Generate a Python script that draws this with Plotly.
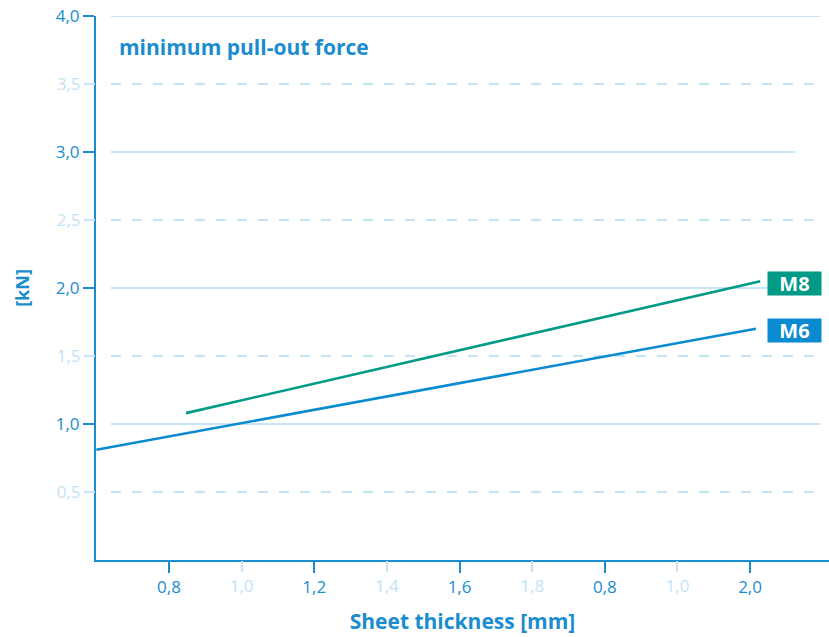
import plotly.graph_objects as go

# ---- data ----
x_tick_vals_dark = [0.8, 1.1, 1.4, 1.7, 2.0]
x_tick_text_dark = ["0,8", "1,2", "1,6", "0,8", "2,0"]
x_tick_vals_light = [0.95, 1.25, 1.55, 1.85]
x_tick_text_light = ["1,0", "1,4", "1,8", "1,0"]

y_tick_vals_dark = [1.0, 2.0, 3.0, 4.0]
y_tick_text_dark = ["1,0", "2,0", "3,0", "4,0"]
y_tick_vals_light = [0.5, 1.5, 2.5, 3.5]
y_tick_text_light = ["0,5", "1,5", "2,5", "3,5"]

m6_x = [0.65, 2.012]
m6_y = [0.81, 1.70]
m8_x = [0.835, 2.021]
m8_y = [1.08, 2.05]

series_names = ["M8", "M6"]

# ---- styles ----
DARK = "#1a8dcf"
LIGHT = "#c4e2f5"
GRID = "#b5dcf1"
C_M6 = "#0a8ad0"
C_M8 = "#009a86"
FONT = "Open Sans"

X_RANGE = [0.6492, 2.163]
Y_RANGE = [0, 4]

fig = go.Figure()

fig.add_trace(go.Scatter(x=m6_x, y=m6_y, mode="lines", line=dict(color=C_M6, width=2.6),
                         showlegend=False, hoverinfo="skip", cliponaxis=False))
fig.add_trace(go.Scatter(x=m8_x, y=m8_y, mode="lines", line=dict(color=C_M8, width=2.6),
                         showlegend=False, hoverinfo="skip", cliponaxis=False))
# invisible trace to instantiate the overlay axes (light ticks)
fig.add_trace(go.Scatter(x=[None], y=[None], xaxis="x2", yaxis="y2", showlegend=False,
                         hoverinfo="skip"))

# gridlines: solid at whole values, dashed at halves
grid_solid = [(1.0, 2.145), (2.0, 2.145), (3.0, 2.093), (4.0, 2.145)]
for yv, xe in grid_solid:
    fig.add_shape(type="line", xref="x", yref="y", x0=0.680, x1=xe, y0=yv, y1=yv,
                  line=dict(color=GRID, width=1.6), layer="below")
for yv in y_tick_vals_light:
    fig.add_shape(type="line", xref="x", yref="y", x0=0.680, x1=2.145, y0=yv, y1=yv,
                  line=dict(color=GRID, width=1.6, dash="10px,11px"), layer="below")

# series labels
for name, yv, col in [("M8", m8_y[-1], C_M8), ("M6", m6_y[-1], C_M6)]:
    fig.add_annotation(x=2.091, y=yv, xref="x", yref="y", text="<b>%s</b>" % name,
                       showarrow=False, bgcolor=col, width=49, height=19, borderpad=2,
                       yshift=-2, font=dict(family=FONT, size=20, color="white"))

# chart title
fig.add_annotation(x=0.028, y=0.943, xref="paper", yref="paper", xanchor="left",
                   yanchor="middle", text="<b>minimum pull-out force</b>", showarrow=False,
                   font=dict(family=FONT, size=21, color=DARK))

axis_common = dict(showgrid=False, zeroline=False, ticks="outside", ticklen=11, tickwidth=2,
                   automargin=False)

TICK_SIZE = 17

fig.update_layout(
    width=829, height=637,
    margin=dict(l=96, r=0, t=16, b=77),
    paper_bgcolor="white", plot_bgcolor="white",
    font=dict(family=FONT, color=DARK, size=TICK_SIZE),
    xaxis=dict(range=X_RANGE, tickvals=x_tick_vals_dark, ticktext=x_tick_text_dark,
               tickcolor=DARK, tickfont=dict(color=DARK, size=TICK_SIZE),
               showline=True, linecolor=DARK, linewidth=2,
               title=dict(text="<b>Sheet thickness [mm]</b>", font=dict(size=21, color=DARK), standoff=17),
               **axis_common),
    yaxis=dict(range=Y_RANGE, tickvals=y_tick_vals_dark, ticktext=y_tick_text_dark,
               tickcolor=DARK, tickfont=dict(color=DARK, size=TICK_SIZE),
               showline=True, linecolor=DARK, linewidth=2,
               title=dict(text="<b>[kN]</b>", font=dict(size=18, color=DARK), standoff=21),
               **axis_common),
    xaxis2=dict(range=X_RANGE, tickvals=x_tick_vals_light, ticktext=x_tick_text_light,
                tickcolor=LIGHT, tickfont=dict(color=LIGHT, size=TICK_SIZE), overlaying="x",
                side="bottom", anchor="y2", showline=False, **axis_common),
    yaxis2=dict(range=Y_RANGE, tickvals=y_tick_vals_light, ticktext=y_tick_text_light,
                tickcolor=LIGHT, tickfont=dict(color=LIGHT, size=TICK_SIZE), overlaying="y",
                side="left", anchor="x2", showline=False, **axis_common),
)

fig.write_html("out.html", config={"displayModeBar": False},
               post_script="document.body.style.margin='0';document.body.style.overflow='hidden';")
